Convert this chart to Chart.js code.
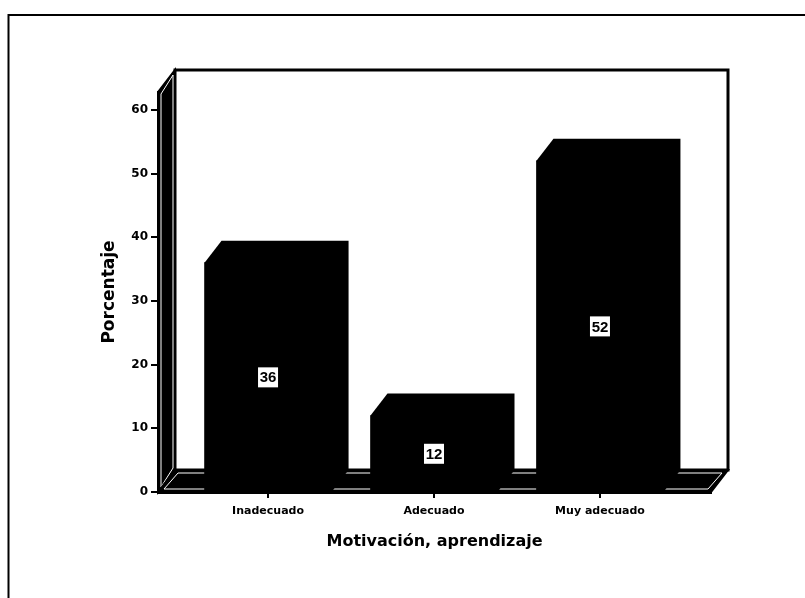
<!DOCTYPE html>
<html>
<head>
<meta charset="utf-8">
<style>
  html, body { margin: 0; padding: 0; background: #fff; }
  canvas { display: block; }
</style>
<script src="https://cdn.jsdelivr.net/npm/chart.js@4"></script>
</head>
<body>
<canvas id="graph" width="805" height="598"></canvas>
<script>
const categories = ["Inadecuado", "Adecuado", "Muy adecuado"];
const percentages = [36, 12, 52];
const yTicks = [0, 10, 20, 30, 40, 50, 60];

const depthX = 17;
const depthY = 22;
const ink = "#000";

const polygon = (ctx, points, fill, stroke, lineWidth) => {
  ctx.beginPath();
  points.forEach((p, i) => (i ? ctx.lineTo(p[0], p[1]) : ctx.moveTo(p[0], p[1])));
  ctx.closePath();
  if (fill) {
    ctx.fillStyle = fill;
    ctx.fill();
  }
  if (stroke) {
    ctx.strokeStyle = stroke;
    ctx.lineWidth = lineWidth;
    ctx.stroke();
  }
};

// page frame + the 3D box behind the bars
const boxPlugin = {
  id: "box",
  beforeDraw(chart) {
    const { ctx, chartArea: a, width, height } = chart;
    ctx.save();
    ctx.lineJoin = "miter";
    ctx.strokeStyle = ink;
    ctx.lineWidth = 2;
    ctx.beginPath();
    ctx.moveTo(8.5, height);
    ctx.lineTo(8.5, 15);
    ctx.lineTo(width, 15);
    ctx.stroke();

    const backL = a.left + depthX;
    const backR = a.right + depthX;
    const backT = a.top - depthY;
    const backB = a.bottom - depthY;

    polygon(ctx, [[backL, backT], [backR, backT], [backR, backB], [backL, backB]], "#fff", ink, 3);
    // left wall
    polygon(ctx, [[a.left, a.top], [backL, backT], [backL, backB], [a.left, a.bottom]], ink, ink, 2);
    polygon(ctx, [[a.left + 3, a.top + 2], [backL - 2, backT + 5], [backL - 2, backB - 2], [a.left + 3, a.bottom - 5]], null, "#fff", 1);
    // floor
    polygon(ctx, [[a.left, a.bottom], [backL, backB], [backR, backB], [a.right, a.bottom]], ink, ink, 2);
    polygon(ctx, [[a.left + 6, a.bottom - 3], [backL + 3, backB + 3], [backR - 6, backB + 3], [a.right - 3, a.bottom - 3]], null, "#fff", 1);
    ctx.restore();
  },
  // top and side faces of each bar, then the value boxes
  afterDatasetsDraw(chart) {
    const { ctx } = chart;
    const y = chart.scales.y;
    ctx.save();
    chart.getDatasetMeta(0).data.forEach((bar, i) => {
      const half = bar.width / 2;
      const l = bar.x - half;
      const r = bar.x + half;
      polygon(ctx, [
        [l, bar.y],
        [l + depthX, bar.y - depthY],
        [r + depthX, bar.y - depthY],
        [r + depthX, y.bottom - depthY],
        [r, y.bottom],
      ], ink);

      const midY = y.getPixelForValue(percentages[i] / 2);
      ctx.fillStyle = "#fff";
      ctx.fillRect(bar.x - 10, midY - 10, 20, 20);
      ctx.fillStyle = ink;
      ctx.font = "bold 15px 'Liberation Sans'";
      ctx.textAlign = "center";
      ctx.textBaseline = "middle";
      ctx.fillText(String(percentages[i]), bar.x, midY + 1);
    });
    ctx.restore();
  },
};

new Chart(document.getElementById("graph"), {
  type: "bar",
  data: {
    datasets: [
      {
        data: percentages.map((v, i) => ({ x: i, y: v })),
        backgroundColor: ink,
        borderWidth: 0,
        barThickness: 127,
      },
    ],
  },
  plugins: [boxPlugin],
  options: {
    responsive: false,
    animation: false,
    layout: { padding: { top: 92, right: 94, left: 0, bottom: 0 } },
    plugins: { legend: { display: false }, tooltip: { enabled: false } },
    scales: {
      x: {
        type: "linear",
        offset: false,
        min: -0.663,
        max: 2.669,
        afterBuildTicks: (scale) => {
          scale.ticks = categories.map((_, i) => ({ value: i }));
        },
        afterFit: (scale) => {
          scale.height = 106;
        },
        grid: { offset: false, drawOnChartArea: false, color: ink, lineWidth: 2, tickLength: 6, tickColor: ink },
        border: { color: ink, width: 3 },
        ticks: {
          autoSkip: false,
          maxRotation: 0,
          color: ink,
          padding: 7,
          font: { family: "'DejaVu Sans'", size: 11, weight: "bold" },
          callback: (v) => categories[v],
        },
        title: {
          display: true,
          text: "Motivación, aprendizaje",
          color: ink,
          font: { family: "'DejaVu Sans'", size: 16, weight: "bold" },
          padding: { top: 4, bottom: 47 },
        },
      },
      y: {
        min: 0,
        max: 62.8,
        afterBuildTicks: (scale) => {
          scale.ticks = yTicks.map((v) => ({ value: v }));
        },
        afterFit: (scale) => {
          scale.width = 158;
        },
        grid: { drawOnChartArea: false, color: ink, lineWidth: 2, tickLength: 7, tickColor: ink },
        border: { color: ink, width: 3 },
        ticks: {
          color: ink,
          padding: 3,
          font: { family: "'DejaVu Sans'", size: 12, weight: "bold" },
        },
        title: {
          display: true,
          text: "Porcentaje",
          color: ink,
          font: { family: "'DejaVu Sans'", size: 17, weight: "bold" },
          padding: { top: 99, bottom: 4 },
        },
      },
    },
  },
});
</script>
</body>
</html>
